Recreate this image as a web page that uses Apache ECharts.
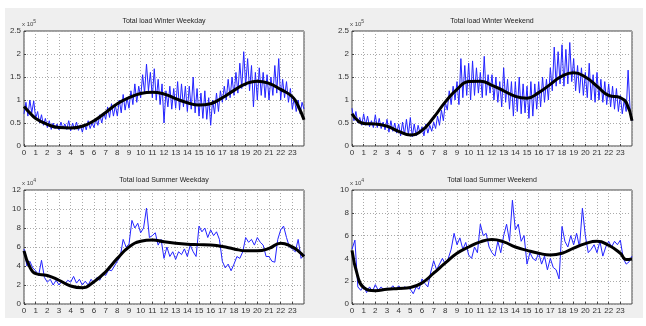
<!DOCTYPE html>
<html>
<head>
<meta charset="utf-8">
<script src="https://cdn.jsdelivr.net/npm/echarts@6/dist/echarts.min.js"></script>
<style>html,body{margin:0;padding:0;background:#fff;}#c{width:646px;height:326px;}</style>
</head>
<body>
<div id="c"></div>
<script>
// Titles
const titles = ['Total load Winter Weekday','Total load Winter Weekend','Total load Summer Weekday','Total load Summer Weekend'];
const expLabels = ['5','5','4','4'];
// Hour tick labels (0..23)
const hourTicks = [0,1,2,3,4,5,6,7,8,9,10,11,12,13,14,15,16,17,18,19,20,21,22,23];
// y-axis ranges (in axis units)
const yMax = [2.5, 2.5, 12, 10];
const yStep = [0.5, 0.5, 2, 2];

// Blue measured load, winter: every 10 minutes from 0 to 24 h (axis units, x10^5)
const winterWeekday = [
0.70,0.95,0.65,1.00,0.72,0.98, 0.60,0.75,0.50,0.68,0.45,0.60, 0.40,0.55,0.36,0.50,0.38,0.48,
0.35,0.52,0.38,0.48,0.36,0.55, 0.33,0.50,0.36,0.52,0.34,0.46, 0.30,0.48,0.35,0.55,0.38,0.50,
0.40,0.60,0.45,0.68,0.50,0.72, 0.58,0.85,0.62,0.92,0.65,0.88, 0.65,1.00,0.72,1.12,0.78,1.05,
0.82,1.20,0.90,1.35,0.95,1.30, 1.05,1.55,1.15,1.78,1.20,1.60, 1.05,1.68,1.00,1.45,0.90,1.35,
0.50,1.20,0.85,1.30,0.80,1.25, 0.82,1.40,0.78,1.35,0.85,1.30, 0.75,1.30,0.80,1.50,0.72,1.25,
0.65,1.15,0.60,1.20,0.58,1.05, 0.45,1.00,0.70,1.15,0.75,1.20, 0.95,1.30,1.00,1.45,1.05,1.50,
1.10,1.60,1.15,1.80,1.25,2.05, 1.30,1.90,1.20,1.75,0.85,1.60, 1.00,1.70,1.10,1.60,1.05,1.55,
1.00,1.50,1.10,1.75,1.15,1.90, 1.00,1.45,1.05,1.40,0.95,1.25, 0.80,1.05,0.75,1.00,0.70,0.95, 0.80];
const winterWeekend = [
0.82,0.55,0.75,0.50,0.62,0.45, 0.70,0.45,0.65,0.42,0.55,0.40, 0.68,0.40,0.60,0.38,0.52,0.35,
0.58,0.30,0.55,0.32,0.50,0.28, 0.48,0.22,0.52,0.25,0.58,0.24, 0.62,0.20,0.48,0.22,0.45,0.28,
0.42,0.22,0.48,0.28,0.45,0.32, 0.52,0.38,0.65,0.45,0.78,0.55, 0.95,0.78,1.20,0.90,1.30,1.00,
1.40,0.90,1.90,1.05,1.75,1.10, 1.80,1.00,1.85,1.10,1.70,1.15, 1.60,1.05,1.95,1.10,1.55,1.15,
1.55,1.00,1.50,0.95,1.40,0.85, 1.70,0.95,1.45,0.80,1.40,0.65, 1.40,0.75,1.50,0.70,1.35,0.72,
1.30,0.60,1.40,0.65,1.35,0.80, 1.40,0.85,1.50,0.95,1.45,1.00, 1.70,1.20,2.15,1.30,2.05,1.35,
2.20,1.30,2.10,1.35,2.25,1.40, 1.90,1.20,1.75,1.15,1.70,1.10, 1.60,1.05,1.80,1.00,1.55,0.95,
1.60,1.00,1.45,0.95,1.40,0.90, 1.35,0.85,1.30,0.80,1.25,0.75, 1.10,0.70,1.00,0.75,1.65,0.80, 0.55];
// Blue measured load, summer: every 15 minutes from 0 to 24 h (axis units, x10^4)
const summerWeekday = [
5.8,4.0,4.5,3.8, 3.5,3.0,4.6,2.8, 2.3,2.6,2.0,2.5, 2.0,2.4,2.1,2.5,
2.3,2.9,2.2,2.6, 2.0,2.4,2.0,2.6, 2.2,2.8,2.5,3.2, 3.0,3.6,3.5,4.0,
4.5,5.0,6.8,6.0, 6.3,8.8,8.0,8.5, 7.5,8.0,10.1,7.0, 7.2,7.5,6.2,6.8,
4.8,6.0,5.0,5.5, 4.7,5.5,5.2,5.8, 5.0,6.2,5.5,5.0, 8.2,7.6,8.0,7.0,
7.8,7.2,7.6,6.8, 4.5,3.8,4.2,3.5, 4.2,5.0,4.8,5.5, 7.0,6.5,6.8,6.2,
7.0,6.5,6.2,5.0, 5.0,4.5,4.4,6.8, 7.8,8.2,7.0,6.0, 5.8,5.5,6.8,4.8, 5.2];
const summerWeekend = [
4.8,5.6,1.5,1.2, 1.6,1.0,1.5,1.1, 1.7,1.2,1.5,1.2, 1.4,1.3,1.6,1.3,
1.6,1.3,1.5,1.4, 1.3,0.9,1.5,1.3, 2.2,1.8,1.5,2.8, 3.8,3.0,3.5,4.0,
3.5,4.0,4.8,6.2, 5.2,5.8,4.8,5.4, 4.3,4.0,5.0,4.5, 7.0,6.0,6.2,5.0,
4.5,4.2,5.5,4.5, 6.0,7.0,5.5,9.1, 6.5,7.0,5.5,6.0, 3.5,4.5,4.0,3.8,
4.5,3.5,4.2,3.0, 4.0,3.2,3.0,2.2, 6.8,5.5,5.0,6.0, 5.2,6.2,5.0,8.4,
6.0,4.5,4.8,5.2, 4.5,5.5,4.2,5.0, 5.5,5.0,5.5,5.2, 5.6,4.0,3.5,3.7, 4.2];
const sampleStep = [1/6, 1/6, 0.25, 0.25];

// Black smoothed fit, sampled at these hours
const fitHours = [0,0.5,1,2,3,4,5,6,7,8,9,10,11,12,13,14,15,16,17,18,19,20,21,22,23,23.5,24];
const fitWinterWeekday = [0.86,0.72,0.60,0.47,0.40,0.39,0.43,0.55,0.73,0.92,1.05,1.14,1.17,1.13,1.03,0.94,0.89,0.92,1.05,1.21,1.35,1.41,1.36,1.23,1.07,0.87,0.57];
const fitWinterWeekend = [0.70,0.55,0.49,0.48,0.43,0.32,0.24,0.34,0.62,0.96,1.23,1.40,1.41,1.32,1.20,1.08,1.04,1.16,1.34,1.52,1.59,1.50,1.30,1.10,1.05,0.95,0.55];
const fitSummerWeekday = [5.6,3.9,3.2,3.0,2.5,1.9,1.7,2.35,3.4,4.8,6.0,6.6,6.75,6.55,6.4,6.3,6.25,6.2,6.05,5.8,5.6,5.6,5.85,6.4,6.0,5.6,5.0];
const fitSummerWeekend = [4.7,2.4,1.45,1.17,1.3,1.37,1.45,1.85,2.7,3.6,4.45,5.0,5.45,5.65,5.45,5.0,4.7,4.45,4.3,4.45,4.9,5.3,5.5,5.15,4.45,3.9,3.95];

const blue = [winterWeekday, winterWeekend, summerWeekday, summerWeekend];
const fits = [fitWinterWeekday, fitWinterWeekend, fitSummerWeekday, fitSummerWeekend];

const grids = [
  {left:24, top:31, width:280, height:115},
  {left:352, top:31, width:280, height:115},
  {left:24, top:190, width:280, height:114},
  {left:352, top:190, width:280, height:114}
];
const txt = '#333';
const font = 'Liberation Sans, Arial, sans-serif';

const option = {
  animation:false,
  backgroundColor:'#ffffff',
  graphic:[{type:'rect', z:-10, shape:{x:5,y:8,width:638,height:310}, style:{fill:'#efefef'}}],
  title: titles.map((t,i)=>({
    text:t, left: grids[i].left + grids[i].width/2, top: grids[i].top - 13, textAlign:'center',
    textStyle:{fontSize:7, fontWeight:'normal', color:'#222', fontFamily:font}, padding:0
  })),
  grid: grids.map(g=>Object.assign({show:true, backgroundColor:'#fff', borderColor:'#444', borderWidth:1}, g)),
  xAxis: grids.map((g,i)=>({
    type:'value', gridIndex:i, min:0, max:24, interval:1,
    axisLine:{show:false},
    axisTick:{show:true, inside:true, length:2, lineStyle:{color:'#444'}},
    axisLabel:{fontSize:8, color:txt, margin:3, fontFamily:font, showMaxLabel:false,
      formatter:v=> hourTicks.indexOf(v)>=0 ? String(v) : ''},
    splitLine:{show:true, lineStyle:{type:[1,2], color:'#aaa', width:1}}
  })),
  yAxis: grids.map((g,i)=>({
    type:'value', gridIndex:i, min:0, max:yMax[i], interval:yStep[i],
    name:'{a|x 10}{b|'+expLabels[i]+'}', nameLocation:'end', nameGap:2,
    nameTextStyle:{align:'left', padding:[0,0,0,-2], rich:{a:{fontSize:6, color:'#444', fontFamily:font}, b:{fontSize:5, color:'#444', fontFamily:font, padding:[0,0,5,0]}}},
    axisLine:{show:false},
    axisTick:{show:true, inside:true, length:2, lineStyle:{color:'#444'}},
    axisLabel:{fontSize:8, color:txt, margin:3, fontFamily:font},
    splitLine:{show:true, lineStyle:{type:[1,2], color:'#aaa', width:1}}
  })),
  series: []
};
blue.forEach((arr,i)=>{
  option.series.push({
    type:'line', xAxisIndex:i, yAxisIndex:i, symbol:'none', z:2,
    lineStyle:{color:'#2323ff', width:1},
    data: arr.map((v,k)=>[k*sampleStep[i], v])
  });
});
fits.forEach((arr,i)=>{
  option.series.push({
    type:'line', xAxisIndex:i, yAxisIndex:i, symbol:'none', smooth:0.5, z:3,
    lineStyle:{color:'#000', width:3},
    data: arr.map((v,k)=>[fitHours[k], v])
  });
});
echarts.init(document.getElementById('c'), null, {renderer:'canvas'}).setOption(option);
</script>
</body>
</html>
